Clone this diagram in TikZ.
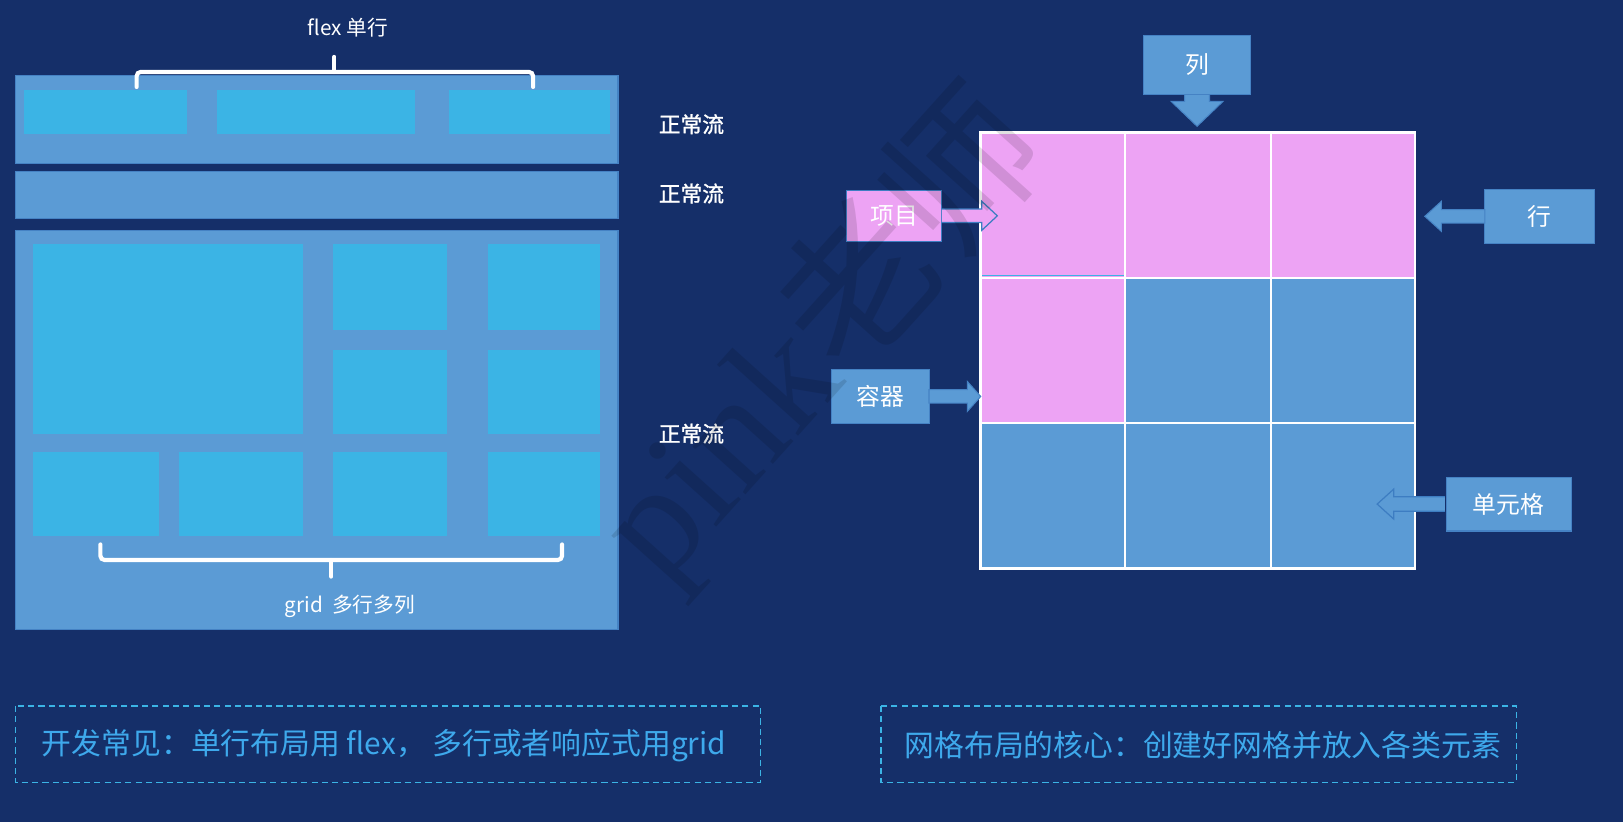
\documentclass[tikz,border=0pt]{standalone}
\usepackage{fontspec}
\setmainfont{Noto Sans CJK SC}
\newfontfamily\cjkbold[FakeBold=1.2]{Noto Sans CJK SC}
\newfontfamily\wmlatin{Liberation Serif}
\newfontfamily\wmcjk{Noto Sans CJK SC}
\usetikzlibrary{calc}
\definecolor{bgc}{HTML}{152F69}
\definecolor{lblue}{HTML}{5B9BD5}
\definecolor{bordc}{HTML}{4582C4}
\definecolor{cyanc}{HTML}{3BB4E5}
\definecolor{pinkc}{HTML}{EDA3F4}
\definecolor{tipc}{HTML}{3D7DC2}
\definecolor{notec}{HTML}{3EA9EC}
\tikzset{
  panel/.style={fill=lblue, draw=bordc, line width=1.2pt},
  item/.style={fill=cyanc},
  bracec/.style={draw=white, line width=4pt, rounded corners=4pt, line cap=round},
  lbl/.style={text=white, inner sep=0pt, font=\fontsize{20}{24}\selectfont},
  flowlbl/.style={text=white, inner sep=0pt, font=\cjkbold\fontsize{21}{25}\selectfont},
  callout/.style={fill=lblue, draw=bordc, line width=1pt, text=white, inner sep=0pt, font=\fontsize{23}{27}\selectfont},
  pinkcallout/.style={callout, fill=pinkc, draw=tipc},
  callarrow/.style={fill=lblue, draw=bordc, line width=1pt, line join=miter},
  pinkarrow/.style={fill=pinkc, draw=tipc, line width=1.2pt, line join=miter},
  outarrow/.style={fill=lblue, draw=tipc, line width=1.2pt, line join=miter},
  notebox/.style={draw=cyanc, line width=1.3pt, dash pattern=on 6pt off 4pt},
  notetext/.style={text=notec, inner sep=0pt, font=\fontsize{28.8}{32}\selectfont},
  gridline/.style={draw=white, line width=2pt}
}
\begin{document}
\begin{tikzpicture}[x=1pt,y=-1pt]
\fill[bgc] (0,0) rectangle (1568,794);
\useasboundingbox (0,0) rectangle (1568,794);

% ---------- left panel ----------
\draw[panel] (15,73) rectangle (597,158);
\fill[item] (23,87) rectangle (181,129);
\fill[item] (210,87) rectangle (401,129);
\fill[item] (434,87) rectangle (589,129);

\draw[panel] (15,166) rectangle (597,211);

\draw[panel] (15,223) rectangle (597,608);
\fill[item] (32,236) rectangle (293,419);
\fill[item] (322,236) rectangle (432,319);
\fill[item] (471,236) rectangle (580,319);
\fill[item] (322,338) rectangle (432,419);
\fill[item] (471,338) rectangle (580,419);
\fill[item] (32,437) rectangle (154,518);
\fill[item] (173,437) rectangle (293,518);
\fill[item] (322,437) rectangle (432,518);
\fill[item] (471,437) rectangle (580,518);

% braces
\draw[bracec] (132,84) -- (132,69.5) -- (515,69.5) -- (515,84);
\draw[bracec, rounded corners=0pt] (323,69.5) -- (323,55);
\draw[bracec] (97,526) -- (97,541) -- (543,541) -- (543,526);
\draw[bracec, rounded corners=0pt] (320,541) -- (320,557);

\node[lbl] (flexlbl) at (336,27) {flex 单行};
\node[lbl] (gridlbl) at (338,586) {grid\ \ 多行多列};

\node[flowlbl] (flow1) at (668,120) {正常流};
\node[flowlbl] (flow2) at (668,187) {正常流};
\node[flowlbl] (flow3) at (668,419) {正常流};

% ---------- grid ----------
\fill[pinkc] (947,128) rectangle (1367,268);
\fill[pinkc] (947,268) rectangle (1087,409);
\fill[lblue] (1087,268) rectangle (1367,549);
\fill[lblue] (947,409) rectangle (1087,549);
\draw[cyanc, line width=1.2pt] (948,266) -- (1087,266);
\draw[gridline] (1087,128) -- (1087,549);
\draw[gridline] (1228,128) -- (1228,549);
\draw[gridline] (947,268.5) -- (1367,268.5);
\draw[gridline] (947,409) -- (1367,409);
\draw[draw=white, line width=2.5pt] (947,128) rectangle (1367,549);

% ---------- callouts ----------
\coordinate (lieS) at (1156.5,91);
\path[callarrow] ($(lieS)+(-12,-2)$) -- ($(lieS)+(-12,7)$) -- ($(lieS)+(-25,7)$) -- ($(lieS)+(0,31)$) -- ($(lieS)+(25,7)$) -- ($(lieS)+(12,7)$) -- ($(lieS)+(12,-2)$) -- cycle;
\node[callout, minimum width=103pt, minimum height=57pt] (lie) at (1156.5,62.5) {列};

\node[pinkcallout, minimum width=92pt, minimum height=49pt] (xm) at (864,208.5) {};
\path[pinkarrow] ($(xm.east)+(-0.5,-6.5)$) -- ($(xm.east)+(38,-6.5)$) -- ($(xm.east)+(38,-14)$) -- ($(xm.east)+(53,0)$) -- ($(xm.east)+(38,14)$) -- ($(xm.east)+(38,6.5)$) -- ($(xm.east)+(-0.5,6.5)$);
\node[text=white, inner sep=0pt, font=\fontsize{23}{27}\selectfont] (xmt) at (xm.center) {项目};

\node[callout, minimum width=95pt, minimum height=52pt] (rq) at (850.5,383) {容器};
\path[callarrow] ($(rq.east)+(-1,-6.5)$) -- ($(rq.east)+(36,-6.5)$) -- ($(rq.east)+(36,-14.5)$) -- ($(rq.east)+(49,0)$) -- ($(rq.east)+(36,14.5)$) -- ($(rq.east)+(36,6.5)$) -- ($(rq.east)+(-1,6.5)$) -- cycle;

\node[callout, minimum width=106pt, minimum height=52pt] (hang) at (1487,209) {行};
\path[callarrow] ($(hang.west)+(1,-6.5)$) -- ($(hang.west)+(-41,-6.5)$) -- ($(hang.west)+(-41,-14.5)$) -- ($(hang.west)+(-57,0)$) -- ($(hang.west)+(-41,14.5)$) -- ($(hang.west)+(-41,6.5)$) -- ($(hang.west)+(1,6.5)$) -- cycle;

\node[callout, minimum width=121pt, minimum height=52pt] (dyg) at (1457.5,487) {单元格};
\path[outarrow] ($(dyg.west)+(-0.5,-7)$) -- ($(dyg.west)+(-50,-7)$) -- ($(dyg.west)+(-50,-14.5)$) -- ($(dyg.west)+(-66,0)$) -- ($(dyg.west)+(-50,14.5)$) -- ($(dyg.west)+(-50,7)$) -- ($(dyg.west)+(-0.5,7)$);

% ---------- notes ----------
\draw[notebox] (15,682) rectangle (735,756);
\node[notetext] (note1) at (371,720) {开发常见：单行布局用 flex， 多行或者响应式用grid};
\draw[notebox] (851,682) rectangle (1465,756);
\node[notetext] (note2) at (1162,720) {网格布局的核心：创建好网格并放入各类元素};

% ---------- watermark ----------
\node[black, opacity=0.12, inner sep=0pt, rotate=48, font=\fontsize{150}{150}\selectfont] (wm) at (795,325) {\wmlatin pink\wmcjk 老师};
\end{tikzpicture}
\end{document}
